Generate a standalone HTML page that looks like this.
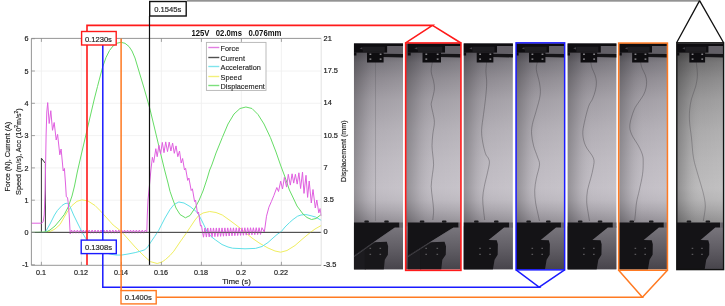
<!DOCTYPE html>
<html><head><meta charset="utf-8"><style>
html,body{margin:0;padding:0;background:#fff;width:725px;height:306px;overflow:hidden}
body{position:relative;font-family:"Liberation Sans",sans-serif}
svg{position:absolute;left:0;top:0;will-change:transform}
</style></head><body>
<svg width="725" height="306" viewBox="0 0 725 306" style="position:absolute;left:0;top:0">
<rect width="725" height="306" fill="#ffffff"/>
<path d="M41.40 38.4V265.3 M81.40 38.4V265.3 M121.40 38.4V265.3 M161.40 38.4V265.3 M201.40 38.4V265.3 M241.40 38.4V265.3 M281.40 38.4V265.3 M31.4 200.20H321.2 M31.4 167.90H321.2 M31.4 135.60H321.2 M31.4 103.30H321.2 M31.4 71.00H321.2" stroke="#efefef" stroke-width="0.8" fill="none"/>
<g fill="none" stroke-linejoin="round" stroke-width="1">
<polyline points="31.40,232.40 41.40,232.40 41.40,158.20 45.40,163.40 45.40,232.40 321.20,232.40" stroke="#3a3a3a"/>
<polyline points="31.40,232.40 45.00,232.40 50.00,231.50 55.00,229.00 60.00,224.50 64.30,217.00 67.20,212.00 72.00,205.50 77.00,201.30 82.00,199.80 88.00,201.00 95.00,205.50 100.00,210.50 105.00,216.00 110.00,221.50 113.10,225.00 117.00,228.00 121.40,231.50 128.00,239.00 135.20,247.10 140.00,252.00 144.80,256.70 150.30,261.60 157.20,263.50 162.00,262.00 165.50,259.50 170.00,255.50 173.80,251.20 180.00,242.00 185.00,235.00 190.00,227.50 195.00,220.00 198.30,216.00 203.00,213.00 209.70,211.50 216.00,212.50 222.30,215.00 230.00,220.50 238.00,226.50 245.20,232.40 252.00,238.00 260.00,243.50 268.00,248.00 275.00,251.00 280.70,252.20 287.00,250.50 295.00,245.50 303.00,238.50 310.40,232.40 315.00,229.00 321.20,225.50" stroke="#f0ee60"/>
<polyline points="31.40,232.40 45.20,232.40 50.00,224.00 54.50,215.00 57.40,210.50 62.00,205.50 65.00,203.60 67.70,203.10 70.20,207.00 73.60,215.00 78.00,224.00 82.00,232.00 85.50,238.10 90.00,243.00 95.00,247.50 100.00,250.50 105.00,252.50 110.30,254.20 116.00,255.00 121.40,255.10 128.00,254.00 135.20,252.60 141.00,251.00 144.80,249.80 147.60,247.00 150.30,242.90 154.50,236.70 158.60,230.50 161.40,225.00 165.00,218.00 170.00,209.50 174.00,204.50 178.80,202.00 184.00,203.00 190.00,206.50 195.00,210.50 198.00,213.40 202.00,221.00 206.80,231.00 211.00,236.50 215.60,240.00 222.00,244.50 228.00,247.00 232.60,248.20 245.00,248.80 255.50,248.40 262.00,246.50 268.00,242.50 273.00,238.00 277.00,234.50 281.20,231.70 285.00,227.00 289.40,222.70 293.00,219.50 297.60,216.20 301.00,215.00 305.70,214.50 310.00,215.50 315.60,217.00 321.20,220.30" stroke="#5fe0e8"/>
<polyline points="31.40,232.50 38.00,232.40 42.00,232.20 46.60,231.80 50.00,230.00 55.00,226.00 60.00,220.00 64.30,214.50 68.20,207.00 72.00,196.00 74.50,186.00 77.30,172.00 80.50,158.00 84.00,143.00 87.50,128.00 91.00,113.00 94.30,99.00 97.50,86.50 100.50,75.00 102.80,66.50 106.00,57.50 109.50,50.50 113.00,46.00 117.00,43.20 121.00,42.30 125.00,43.30 129.00,46.50 132.00,51.00 135.00,58.00 138.60,70.00 144.00,88.00 149.70,108.00 155.00,130.00 160.00,151.00 164.60,170.00 168.00,183.00 170.00,191.30 172.30,198.00 176.00,208.00 180.00,214.50 185.40,217.80 190.00,215.50 195.00,208.00 199.20,200.00 203.00,191.00 207.00,179.00 209.70,170.00 211.80,165.00 216.00,153.00 222.30,137.50 228.00,124.00 234.00,114.00 240.00,108.50 245.90,107.00 252.00,108.50 258.00,114.50 264.00,124.00 270.40,137.50 276.00,152.00 280.50,165.00 285.00,177.00 289.40,190.00 292.30,196.00 297.00,206.00 303.00,214.00 307.00,217.50 311.50,219.50 316.00,218.50 321.20,214.50" stroke="#66dd66"/>
<polyline points="31.40,223.20 41.70,223.20 43.20,221.50 44.20,215.00 45.20,190.00 45.60,165.00 46.10,135.00 46.80,112.00 47.70,102.60 49.20,123.50 50.80,110.70 52.50,130.30 54.20,122.50 56.20,140.00 57.60,134.40 59.80,154.80 61.10,149.00 63.20,171.00 64.40,168.40 65.60,185.00 66.30,196.80 67.50,197.50 68.20,202.60 69.20,215.00 70.20,234.00 71.50,230.00 72.97,233.20 74.45,230.00 75.92,233.20 77.40,230.00 78.87,233.20 80.35,230.00 81.82,233.20 83.30,230.00 84.77,233.20 86.25,230.00 87.72,233.20 89.20,230.00 90.67,233.20 92.15,230.00 93.62,233.20 95.10,230.00 96.57,233.20 98.05,230.00 99.52,233.20 101.00,230.00 102.47,233.20 103.95,230.00 105.42,233.20 106.90,230.00 108.37,233.20 109.85,230.00 111.32,233.20 112.80,230.00 114.27,233.20 115.75,230.00 117.22,233.20 118.70,230.00 120.17,233.20 121.65,230.00 123.12,233.20 124.60,230.00 126.07,233.20 127.55,230.00 129.02,233.20 130.50,230.00 131.97,233.20 133.45,230.00 134.92,233.20 136.40,230.00 137.87,233.20 139.35,230.00 140.82,233.20 142.30,230.00 143.77,233.20 145.25,230.00 146.80,232.00 147.30,215.00 148.00,200.00 149.50,185.00 150.90,170.00 152.40,157.30 153.70,162.50 155.80,148.70 157.20,156.70 158.90,145.30 160.60,153.90 162.30,142.40 164.00,152.70 165.70,141.90 167.50,151.60 169.20,142.10 170.90,151.00 172.60,143.00 174.30,153.30 176.00,145.90 177.80,156.70 179.50,151.00 181.20,163.00 182.60,158.50 184.50,170.00 185.60,168.30 187.70,180.40 188.90,178.00 191.20,190.50 192.40,188.80 194.60,201.60 195.50,200.00 197.50,213.50 198.50,212.00 200.50,226.00 201.50,225.50 202.50,232.00 203.50,237.20 204.93,227.99 206.35,237.06 207.78,227.98 209.20,236.92 210.63,227.96 212.05,236.78 213.48,227.95 214.90,236.64 216.33,227.94 217.75,236.51 219.18,227.92 220.60,236.37 222.03,227.91 223.45,236.23 224.88,227.89 226.30,236.09 227.73,227.88 229.15,235.95 230.58,227.86 232.00,235.81 233.43,227.85 234.85,235.67 236.28,227.83 237.70,235.53 239.13,227.82 240.55,235.39 241.98,227.81 243.40,235.26 244.83,227.79 246.25,235.12 247.68,227.78 249.10,234.98 250.53,227.76 251.95,234.84 253.38,227.75 254.80,234.70 256.23,227.73 257.65,234.56 259.08,227.72 260.50,234.42 261.93,227.71 264.30,232.00 265.20,226.00 266.50,216.20 268.90,207.20 271.40,201.50 273.80,195.70 275.50,191.00 276.80,187.50 278.50,191.50 280.70,181.20 282.50,189.00 284.40,177.30 286.60,187.10 288.30,174.30 290.30,185.10 292.10,173.80 293.70,183.10 295.40,174.30 297.20,184.10 298.90,172.80 300.60,188.50 302.50,172.10 304.00,193.40 306.00,175.30 307.60,197.40 309.20,181.00 311.30,203.00 313.00,189.50 315.30,208.00 316.80,200.00 318.80,212.90 320.10,208.50 321.20,216.00" stroke="#e060e0"/>
</g>
<path d="M31.4 232.4H321.2" stroke="#555" stroke-width="0.9"/>
<path d="M31.4 38.4H321.2 M31.4 265.3H321.2 M31.4 38.4V265.3" stroke="#8a8a8a" stroke-width="0.9" fill="none"/>
<path d="M321.2 38.4V265.3" stroke="#dcdcdc" stroke-width="0.8" fill="none"/>
<path d="M41.40 265.3v-3.5M41.40 38.4v3.5 M81.40 265.3v-3.5M81.40 38.4v3.5 M121.40 265.3v-3.5M121.40 38.4v3.5 M161.40 265.3v-3.5M161.40 38.4v3.5 M201.40 265.3v-3.5M201.40 38.4v3.5 M241.40 265.3v-3.5M241.40 38.4v3.5 M281.40 265.3v-3.5M281.40 38.4v3.5 M31.4 264.80h3.5 M31.4 232.50h3.5 M31.4 200.20h3.5 M31.4 167.90h3.5 M31.4 135.60h3.5 M31.4 103.30h3.5 M31.4 71.00h3.5 M31.4 38.70h3.5" stroke="#8a8a8a" stroke-width="0.8" fill="none"/>
<g font-family="Liberation Sans, sans-serif" font-size="8" fill="#222" stroke="#222" stroke-width="0.2"><text transform="translate(28.6,41.30) scale(0.9,1)" text-anchor="end">6</text><text transform="translate(28.6,73.60) scale(0.9,1)" text-anchor="end">5</text><text transform="translate(28.6,105.90) scale(0.9,1)" text-anchor="end">4</text><text transform="translate(28.6,138.20) scale(0.9,1)" text-anchor="end">3</text><text transform="translate(28.6,170.50) scale(0.9,1)" text-anchor="end">2</text><text transform="translate(28.6,202.80) scale(0.9,1)" text-anchor="end">1</text><text transform="translate(28.6,235.10) scale(0.9,1)" text-anchor="end">0</text><text transform="translate(28.6,267.40) scale(0.9,1)" text-anchor="end">-1</text><text transform="translate(41.00,274.8) scale(0.9,1)" text-anchor="middle">0.1</text><text transform="translate(81.00,274.8) scale(0.9,1)" text-anchor="middle">0.12</text><text transform="translate(121.00,274.8) scale(0.9,1)" text-anchor="middle">0.14</text><text transform="translate(161.00,274.8) scale(0.9,1)" text-anchor="middle">0.16</text><text transform="translate(201.00,274.8) scale(0.9,1)" text-anchor="middle">0.18</text><text transform="translate(241.00,274.8) scale(0.9,1)" text-anchor="middle">0.2</text><text transform="translate(281.00,274.8) scale(0.9,1)" text-anchor="middle">0.22</text><text transform="translate(323.5,40.60) scale(0.93,1)">21</text><text transform="translate(323.5,72.90) scale(0.93,1)">17.5</text><text transform="translate(323.5,105.20) scale(0.93,1)">14</text><text transform="translate(323.5,137.50) scale(0.93,1)">10.5</text><text transform="translate(323.5,169.80) scale(0.93,1)">7</text><text transform="translate(323.5,202.10) scale(0.93,1)">3.5</text><text transform="translate(323.5,234.40) scale(0.93,1)">0</text><text transform="translate(323.5,266.70) scale(0.93,1)">-3.5</text></g>
<text transform="translate(191.4,35.9) scale(0.977,1.08)" font-family="Liberation Sans, sans-serif" font-size="7.9" font-weight="bold" fill="#111" xml:space="preserve">125V   02.0ms   0.076mm</text>
<text x="236.5" y="284.4" font-family="Liberation Sans, sans-serif" font-size="7.9" fill="#222" stroke="#222" stroke-width="0.15" text-anchor="middle">Time (s)</text>
<text transform="translate(9.7,156.7) rotate(-90) scale(1,1.12)" font-family="Liberation Sans, sans-serif" font-size="7.2" fill="#222" stroke="#222" stroke-width="0.15" text-anchor="middle">Force (N), Current (A)</text>
<text transform="translate(21.0,151.6) rotate(-90) scale(1,1.12)" font-family="Liberation Sans, sans-serif" font-size="7.2" fill="#222" stroke="#222" stroke-width="0.15" text-anchor="middle">Speed (m/s), Acc (10<tspan font-size="5" dy="-3">2</tspan><tspan dy="3">m/s</tspan><tspan font-size="5" dy="-3">2</tspan><tspan dy="3">)</tspan></text>
<text transform="translate(345.9,151.2) rotate(-90)" font-family="Liberation Sans, sans-serif" font-size="7.1" fill="#222" stroke="#222" stroke-width="0.15" text-anchor="middle">Displacement (mm)</text>
<rect x="206.4" y="42.4" width="59.6" height="48.0" fill="#fff" stroke="#b4b4b4" stroke-width="0.9"/>
<path d="M208.3 47.50H219.3" stroke="#e27ee2" stroke-width="1.4"/>
<text x="220.6" y="50.90" font-family="Liberation Sans, sans-serif" font-size="7.3" fill="#1a1a1a" stroke="#1a1a1a" stroke-width="0.12">Force</text>
<path d="M208.3 57.50H219.3" stroke="#505050" stroke-width="1.4"/>
<text x="220.6" y="60.90" font-family="Liberation Sans, sans-serif" font-size="7.3" fill="#1a1a1a" stroke="#1a1a1a" stroke-width="0.12">Current</text>
<path d="M208.3 66.50H219.3" stroke="#80e4ec" stroke-width="1.4"/>
<text x="220.6" y="69.90" font-family="Liberation Sans, sans-serif" font-size="7.3" fill="#1a1a1a" stroke="#1a1a1a" stroke-width="0.12">Acceleration</text>
<path d="M208.3 76.50H219.3" stroke="#f2f07a" stroke-width="1.4"/>
<text x="220.6" y="79.90" font-family="Liberation Sans, sans-serif" font-size="7.3" fill="#1a1a1a" stroke="#1a1a1a" stroke-width="0.12">Speed</text>
<path d="M208.3 85.50H219.3" stroke="#7ce07c" stroke-width="1.4"/>
<text x="220.6" y="88.90" font-family="Liberation Sans, sans-serif" font-size="7.3" fill="#1a1a1a" stroke="#1a1a1a" stroke-width="0.12">Displacement</text>
<defs>
<linearGradient id="bgv" x1="0" y1="52" x2="0" y2="222" gradientUnits="userSpaceOnUse">
<stop offset="0" stop-color="#5e5b62"/>
<stop offset="0.06" stop-color="#78757c"/>
<stop offset="0.16" stop-color="#8e8a91"/>
<stop offset="0.28" stop-color="#a19da4"/>
<stop offset="0.46" stop-color="#b1adb4"/>
<stop offset="0.64" stop-color="#bcb8bf"/>
<stop offset="0.80" stop-color="#c2bec5"/>
<stop offset="0.87" stop-color="#bbb7be"/>
<stop offset="0.93" stop-color="#a9a5ac"/>
<stop offset="1" stop-color="#908c93"/>
</linearGradient>
<linearGradient id="bgv7" x1="0" y1="52" x2="0" y2="222" gradientUnits="userSpaceOnUse">
<stop offset="0" stop-color="#575657"/>
<stop offset="0.06" stop-color="#706f70"/>
<stop offset="0.16" stop-color="#868586"/>
<stop offset="0.28" stop-color="#999899"/>
<stop offset="0.46" stop-color="#aaa9aa"/>
<stop offset="0.64" stop-color="#b5b4b5"/>
<stop offset="0.80" stop-color="#bcbbbc"/>
<stop offset="0.87" stop-color="#b4b3b4"/>
<stop offset="0.93" stop-color="#a3a2a3"/>
<stop offset="1" stop-color="#8c8b8c"/>
</linearGradient>
<linearGradient id="bgh" x1="0" y1="0" x2="1" y2="0">
<stop offset="0" stop-color="#000" stop-opacity="0.24"/>
<stop offset="0.25" stop-color="#000" stop-opacity="0.08"/>
<stop offset="0.55" stop-color="#fff" stop-opacity="0.02"/>
<stop offset="1" stop-color="#fff" stop-opacity="0.08"/>
</linearGradient>
<linearGradient id="bgb" x1="0" y1="228" x2="0" y2="269.6" gradientUnits="userSpaceOnUse">
<stop offset="0" stop-color="#78757c"/>
<stop offset="0.5" stop-color="#605d64"/>
<stop offset="1" stop-color="#47444b"/>
</linearGradient>
</defs>
<clipPath id="cp0"><rect x="353.8" y="43.3" width="49.30" height="226.30"/></clipPath>
<g clip-path="url(#cp0)">
<rect x="353.8" y="43.3" width="49.30" height="226.30" fill="url(#bgv)"/>
<rect x="353.8" y="43.3" width="49.30" height="226.30" fill="url(#bgh)"/>
<path d="M375.50 61.50 L375.50 221.00" fill="none" stroke="#3a383e" stroke-width="0.65" stroke-opacity="0.3"/>
<rect x="353.80" y="43.30" width="49.40" height="2.80" fill="#0e0d10"/>
<rect x="353.80" y="46.00" width="33.60" height="6.60" fill="#0e0d10"/>
<rect x="362.80" y="46.70" width="22.00" height="5.20" fill="#1e1d21"/>
<rect x="387.30" y="46.00" width="15.90" height="7.70" fill="#625f66"/>
<polygon points="382.30,53.70 403.20,54.00 403.20,57.50 382.30,56.90" fill="#151417"/>
<rect x="367.00" y="52.50" width="16.60" height="10.00" fill="#0e0d10"/>
<rect x="353.80" y="52.50" width="2.60" height="3.00" fill="#0e0d10"/>
<polygon points="359.60,48.30 362.40,47.20 362.40,49.40" fill="#46444a"/>
<rect x="369.50" y="53.65" width="1.8" height="1.1" fill="#aeacb0"/>
<rect x="379.70" y="53.65" width="1.8" height="1.1" fill="#aeacb0"/>
<rect x="369.50" y="58.55" width="1.8" height="1.1" fill="#aeacb0"/>
<rect x="379.70" y="58.55" width="1.8" height="1.1" fill="#aeacb0"/>
<rect x="353.8" y="226.30" width="49.30" height="43.30" fill="url(#bgb)"/>
<rect x="399.30" y="222.50" width="3.90" height="5.20" fill="#6a676e"/>
<polygon points="353.80,222.50 399.30,222.50 399.30,227.60 394.80,227.60 353.80,255.80" fill="#141316"/>
<polygon points="353.80,255.80 365.80,247.60 365.80,269.80 353.80,269.80" fill="#1c1b1f"/>
<polygon points="364.80,248.30 373.80,242.30 386.80,241.80 388.10,246.30 387.90,254.80 384.80,259.80 383.80,269.80 364.80,269.80" fill="#18171a"/>
<path d="M393.80 228.60L353.80 256.80" stroke="#6a686e" stroke-width="0.8" stroke-opacity="0.6"/>
<rect x="364.30" y="220.40" width="4.6" height="2.3" rx="1" fill="#19181b"/>
<rect x="384.20" y="220.40" width="4.6" height="2.3" rx="1" fill="#19181b"/>
<rect x="369.50" y="247.80" width="1.6" height="1" fill="#6a686c"/>
<rect x="379.50" y="247.80" width="1.6" height="1" fill="#6a686c"/>
<rect x="369.50" y="253.80" width="1.6" height="1" fill="#6a686c"/>
<rect x="379.50" y="253.80" width="1.6" height="1" fill="#6a686c"/>
</g>
<clipPath id="cp1"><rect x="406.0" y="43.3" width="54.90" height="226.30"/></clipPath>
<g clip-path="url(#cp1)">
<rect x="406.0" y="43.3" width="54.90" height="226.30" fill="url(#bgv)"/>
<rect x="406.0" y="43.3" width="54.90" height="226.30" fill="url(#bgh)"/>
<path d="M432.40 61.60 C432.20 63.23 431.00 68.13 431.20 71.40 C431.40 74.67 433.07 78.27 433.60 81.20 C434.13 84.13 434.60 86.07 434.40 89.00 C434.20 91.93 432.93 96.18 432.40 98.80 C431.87 101.42 431.13 102.42 431.20 104.70 C431.27 106.98 432.27 109.55 432.80 112.50 C433.33 115.45 434.40 118.80 434.40 122.40 C434.40 126.00 433.20 130.18 432.80 134.10 C432.40 138.02 432.00 142.42 432.00 145.90 C432.00 149.38 432.53 151.85 432.80 155.00 C433.07 158.15 433.67 161.53 433.60 164.80 C433.53 168.07 432.80 171.00 432.40 174.60 C432.00 178.20 431.20 182.48 431.20 186.40 C431.20 190.32 432.00 194.18 432.40 198.10 C432.80 202.02 433.53 206.25 433.60 209.90 C433.67 213.55 432.93 218.32 432.80 220.00" fill="none" stroke="#3a383e" stroke-width="0.65" stroke-opacity="0.58"/>
<rect x="407.80" y="43.30" width="55.01" height="2.80" fill="#0e0d10"/>
<rect x="407.80" y="46.00" width="37.42" height="6.60" fill="#0e0d10"/>
<rect x="417.82" y="46.70" width="24.50" height="5.20" fill="#1e1d21"/>
<rect x="445.11" y="46.00" width="17.71" height="7.70" fill="#625f66"/>
<polygon points="439.54,53.70 461.90,54.00 461.90,57.50 439.54,56.90" fill="#151417"/>
<rect x="422.50" y="52.50" width="18.49" height="10.00" fill="#0e0d10"/>
<rect x="407.80" y="52.50" width="2.90" height="3.00" fill="#0e0d10"/>
<polygon points="414.26,48.30 417.38,47.20 417.38,49.40" fill="#46444a"/>
<rect x="425.39" y="53.65" width="1.8" height="1.1" fill="#aeacb0"/>
<rect x="436.74" y="53.65" width="1.8" height="1.1" fill="#aeacb0"/>
<rect x="425.39" y="58.55" width="1.8" height="1.1" fill="#aeacb0"/>
<rect x="436.74" y="58.55" width="1.8" height="1.1" fill="#aeacb0"/>
<rect x="406.0" y="226.30" width="54.90" height="43.30" fill="url(#bgb)"/>
<rect x="458.47" y="222.50" width="4.34" height="5.20" fill="#6a676e"/>
<polygon points="407.80,222.50 458.47,222.50 458.47,227.60 453.46,227.60 407.80,255.80" fill="#141316"/>
<polygon points="407.80,255.80 421.16,247.60 421.16,269.80 407.80,269.80" fill="#1c1b1f"/>
<polygon points="420.05,248.30 430.07,242.30 444.55,241.80 446.00,246.30 445.77,254.80 442.32,259.80 441.21,269.80 420.05,269.80" fill="#18171a"/>
<path d="M452.34 228.60L407.80 256.80" stroke="#6a686e" stroke-width="0.8" stroke-opacity="0.6"/>
<rect x="419.75" y="220.40" width="4.6" height="2.3" rx="1" fill="#19181b"/>
<rect x="441.91" y="220.40" width="4.6" height="2.3" rx="1" fill="#19181b"/>
<rect x="425.37" y="247.80" width="1.6" height="1" fill="#6a686c"/>
<rect x="436.51" y="247.80" width="1.6" height="1" fill="#6a686c"/>
<rect x="425.37" y="253.80" width="1.6" height="1" fill="#6a686c"/>
<rect x="436.51" y="253.80" width="1.6" height="1" fill="#6a686c"/>
</g>
<clipPath id="cp2"><rect x="463.5" y="43.3" width="49.40" height="226.30"/></clipPath>
<g clip-path="url(#cp2)">
<rect x="463.5" y="43.3" width="49.40" height="226.30" fill="url(#bgv)"/>
<rect x="463.5" y="43.3" width="49.40" height="226.30" fill="url(#bgh)"/>
<path d="M486.70 61.60 C486.57 63.23 485.90 67.82 485.90 71.40 C485.90 74.98 486.77 78.53 486.70 83.10 C486.63 87.67 486.03 93.57 485.50 98.80 C484.97 104.03 484.15 109.27 483.50 114.50 C482.85 119.73 481.73 125.62 481.60 130.20 C481.47 134.78 482.05 138.08 482.70 142.00 C483.35 145.92 484.58 151.03 485.50 153.70 C486.42 156.37 487.55 156.48 488.20 158.00 C488.85 159.52 489.52 160.37 489.40 162.80 C489.28 165.23 488.35 168.67 487.50 172.60 C486.65 176.53 485.10 182.15 484.30 186.40 C483.50 190.65 482.83 194.18 482.70 198.10 C482.57 202.02 483.17 206.25 483.50 209.90 C483.83 213.55 484.50 218.32 484.70 220.00" fill="none" stroke="#3a383e" stroke-width="0.65" stroke-opacity="0.58"/>
<rect x="463.50" y="43.30" width="49.50" height="2.80" fill="#0e0d10"/>
<rect x="463.50" y="46.00" width="33.67" height="6.60" fill="#0e0d10"/>
<rect x="472.52" y="46.70" width="22.04" height="5.20" fill="#1e1d21"/>
<rect x="497.07" y="46.00" width="15.93" height="7.70" fill="#625f66"/>
<polygon points="492.06,53.70 513.00,54.00 513.00,57.50 492.06,56.90" fill="#151417"/>
<rect x="476.73" y="52.50" width="16.63" height="10.00" fill="#0e0d10"/>
<rect x="463.50" y="52.50" width="2.61" height="3.00" fill="#0e0d10"/>
<polygon points="469.31,48.30 472.12,47.20 472.12,49.40" fill="#46444a"/>
<rect x="479.23" y="53.65" width="1.8" height="1.1" fill="#aeacb0"/>
<rect x="489.45" y="53.65" width="1.8" height="1.1" fill="#aeacb0"/>
<rect x="479.23" y="58.55" width="1.8" height="1.1" fill="#aeacb0"/>
<rect x="489.45" y="58.55" width="1.8" height="1.1" fill="#aeacb0"/>
<rect x="463.5" y="226.30" width="49.40" height="43.30" fill="url(#bgb)"/>
<rect x="509.09" y="222.50" width="3.91" height="5.20" fill="#6a676e"/>
<polygon points="463.50,222.50 509.09,222.50 509.09,227.60 504.08,227.60 488.55,240.00 496.77,240.20 497.87,244.30 497.67,254.80 494.56,259.80 492.86,269.80 463.50,269.80" fill="#141316"/>
<rect x="474.03" y="220.40" width="4.6" height="2.3" rx="1" fill="#19181b"/>
<rect x="493.97" y="220.40" width="4.6" height="2.3" rx="1" fill="#19181b"/>
<rect x="479.23" y="247.80" width="1.6" height="1" fill="#6a686c"/>
<rect x="489.25" y="247.80" width="1.6" height="1" fill="#6a686c"/>
<rect x="479.23" y="253.80" width="1.6" height="1" fill="#6a686c"/>
<rect x="489.25" y="253.80" width="1.6" height="1" fill="#6a686c"/>
</g>
<clipPath id="cp3"><rect x="516.0" y="43.3" width="48.70" height="226.30"/></clipPath>
<g clip-path="url(#cp3)">
<rect x="516.0" y="43.3" width="48.70" height="226.30" fill="url(#bgv)"/>
<rect x="516.0" y="43.3" width="48.70" height="226.30" fill="url(#bgh)"/>
<path d="M537.50 61.60 C537.30 62.90 535.97 65.82 536.30 69.40 C536.63 72.98 538.85 78.85 539.50 83.10 C540.15 87.35 540.73 90.32 540.20 94.90 C539.67 99.48 537.60 105.70 536.30 110.60 C535.00 115.50 533.18 120.38 532.40 124.30 C531.62 128.22 531.40 130.50 531.60 134.10 C531.80 137.70 532.62 142.08 533.60 145.90 C534.58 149.72 536.52 153.85 537.50 157.00 C538.48 160.15 539.70 161.22 539.50 164.80 C539.30 168.38 537.10 174.25 536.30 178.50 C535.50 182.75 534.83 186.37 534.70 190.30 C534.57 194.23 534.97 198.18 535.50 202.10 C536.03 206.02 537.23 210.65 537.90 213.80 C538.57 216.95 539.23 219.80 539.50 221.00" fill="none" stroke="#3a383e" stroke-width="0.65" stroke-opacity="0.58"/>
<rect x="516.00" y="43.30" width="48.80" height="2.80" fill="#0e0d10"/>
<rect x="516.00" y="46.00" width="33.19" height="6.60" fill="#0e0d10"/>
<rect x="524.89" y="46.70" width="21.73" height="5.20" fill="#1e1d21"/>
<rect x="549.09" y="46.00" width="15.71" height="7.70" fill="#625f66"/>
<polygon points="544.15,53.70 564.80,54.00 564.80,57.50 544.15,56.90" fill="#151417"/>
<rect x="529.04" y="52.50" width="16.40" height="10.00" fill="#0e0d10"/>
<rect x="516.00" y="52.50" width="2.57" height="3.00" fill="#0e0d10"/>
<polygon points="521.73,48.30 524.50,47.20 524.50,49.40" fill="#46444a"/>
<rect x="531.50" y="53.65" width="1.8" height="1.1" fill="#aeacb0"/>
<rect x="541.57" y="53.65" width="1.8" height="1.1" fill="#aeacb0"/>
<rect x="531.50" y="58.55" width="1.8" height="1.1" fill="#aeacb0"/>
<rect x="541.57" y="58.55" width="1.8" height="1.1" fill="#aeacb0"/>
<rect x="516.0" y="226.30" width="48.70" height="43.30" fill="url(#bgb)"/>
<rect x="560.95" y="222.50" width="3.85" height="5.20" fill="#6a676e"/>
<polygon points="516.00,222.50 560.95,222.50 560.95,227.60 556.01,227.60 540.70,240.00 548.80,240.20 549.88,244.30 549.68,254.80 546.62,259.80 544.94,269.80 516.00,269.80" fill="#141316"/>
<rect x="526.34" y="220.40" width="4.6" height="2.3" rx="1" fill="#19181b"/>
<rect x="546.00" y="220.40" width="4.6" height="2.3" rx="1" fill="#19181b"/>
<rect x="531.50" y="247.80" width="1.6" height="1" fill="#6a686c"/>
<rect x="541.38" y="247.80" width="1.6" height="1" fill="#6a686c"/>
<rect x="531.50" y="253.80" width="1.6" height="1" fill="#6a686c"/>
<rect x="541.38" y="253.80" width="1.6" height="1" fill="#6a686c"/>
</g>
<clipPath id="cp4"><rect x="567.4" y="43.3" width="49.20" height="226.30"/></clipPath>
<g clip-path="url(#cp4)">
<rect x="567.4" y="43.3" width="49.20" height="226.30" fill="url(#bgv)"/>
<rect x="567.4" y="43.3" width="49.20" height="226.30" fill="url(#bgh)"/>
<path d="M590.70 61.60 C590.92 62.67 591.28 65.77 592.00 68.00 C592.72 70.23 594.27 72.67 595.00 75.00 C595.73 77.33 596.32 79.50 596.40 82.00 C596.48 84.50 596.15 87.17 595.50 90.00 C594.85 92.83 593.65 96.28 592.50 99.00 C591.35 101.72 589.95 102.40 588.60 106.30 C587.25 110.20 585.37 117.77 584.40 122.40 C583.43 127.03 582.60 130.18 582.80 134.10 C583.00 138.02 583.83 141.92 585.60 145.90 C587.37 149.88 592.10 154.52 593.40 158.00 C594.70 161.48 593.85 163.38 593.40 166.80 C592.95 170.22 591.68 174.58 590.70 178.50 C589.72 182.42 588.17 186.37 587.50 190.30 C586.83 194.23 586.57 198.18 586.70 202.10 C586.83 206.02 587.83 210.65 588.30 213.80 C588.77 216.95 589.30 219.80 589.50 221.00" fill="none" stroke="#3a383e" stroke-width="0.65" stroke-opacity="0.58"/>
<rect x="567.40" y="43.30" width="49.30" height="2.80" fill="#0e0d10"/>
<rect x="567.40" y="46.00" width="33.53" height="6.60" fill="#0e0d10"/>
<rect x="576.38" y="46.70" width="21.96" height="5.20" fill="#1e1d21"/>
<rect x="600.83" y="46.00" width="15.87" height="7.70" fill="#625f66"/>
<polygon points="595.84,53.70 616.70,54.00 616.70,57.50 595.84,56.90" fill="#151417"/>
<rect x="580.57" y="52.50" width="16.57" height="10.00" fill="#0e0d10"/>
<rect x="567.40" y="52.50" width="2.59" height="3.00" fill="#0e0d10"/>
<polygon points="573.19,48.30 575.98,47.20 575.98,49.40" fill="#46444a"/>
<rect x="583.07" y="53.65" width="1.8" height="1.1" fill="#aeacb0"/>
<rect x="593.25" y="53.65" width="1.8" height="1.1" fill="#aeacb0"/>
<rect x="583.07" y="58.55" width="1.8" height="1.1" fill="#aeacb0"/>
<rect x="593.25" y="58.55" width="1.8" height="1.1" fill="#aeacb0"/>
<rect x="567.4" y="226.30" width="49.20" height="43.30" fill="url(#bgb)"/>
<rect x="612.81" y="222.50" width="3.89" height="5.20" fill="#6a676e"/>
<polygon points="567.40,222.50 612.81,222.50 612.81,227.60 607.82,227.60 592.35,240.00 600.53,240.20 601.63,244.30 601.43,254.80 598.34,259.80 596.64,269.80 567.40,269.80" fill="#141316"/>
<rect x="577.87" y="220.40" width="4.6" height="2.3" rx="1" fill="#19181b"/>
<rect x="597.73" y="220.40" width="4.6" height="2.3" rx="1" fill="#19181b"/>
<rect x="583.07" y="247.80" width="1.6" height="1" fill="#6a686c"/>
<rect x="593.05" y="247.80" width="1.6" height="1" fill="#6a686c"/>
<rect x="583.07" y="253.80" width="1.6" height="1" fill="#6a686c"/>
<rect x="593.05" y="253.80" width="1.6" height="1" fill="#6a686c"/>
</g>
<clipPath id="cp5"><rect x="619.2" y="43.3" width="48.30" height="226.30"/></clipPath>
<g clip-path="url(#cp5)">
<rect x="619.2" y="43.3" width="48.30" height="226.30" fill="url(#bgv)"/>
<rect x="619.2" y="43.3" width="48.30" height="226.30" fill="url(#bgh)"/>
<path d="M640.50 61.60 C640.75 62.67 641.20 65.77 642.00 68.00 C642.80 70.23 644.53 72.75 645.30 75.00 C646.07 77.25 646.48 79.33 646.60 81.50 C646.72 83.67 646.52 85.75 646.00 88.00 C645.48 90.25 644.67 92.72 643.50 95.00 C642.33 97.28 640.58 99.20 639.00 101.70 C637.42 104.20 635.52 106.23 634.00 110.00 C632.48 113.77 630.32 120.28 629.90 124.30 C629.48 128.32 630.07 130.50 631.50 134.10 C632.93 137.70 636.67 142.42 638.50 145.90 C640.33 149.38 641.72 152.18 642.50 155.00 C643.28 157.82 643.20 159.53 643.20 162.80 C643.20 166.07 643.15 170.02 642.50 174.60 C641.85 179.18 640.28 185.72 639.30 190.30 C638.32 194.88 637.25 198.18 636.60 202.10 C635.95 206.02 635.73 210.65 635.40 213.80 C635.07 216.95 634.73 219.80 634.60 221.00" fill="none" stroke="#3a383e" stroke-width="0.65" stroke-opacity="0.58"/>
<rect x="619.20" y="43.30" width="48.40" height="2.80" fill="#0e0d10"/>
<rect x="619.20" y="46.00" width="32.92" height="6.60" fill="#0e0d10"/>
<rect x="628.02" y="46.70" width="21.55" height="5.20" fill="#1e1d21"/>
<rect x="652.02" y="46.00" width="15.58" height="7.70" fill="#625f66"/>
<polygon points="647.12,53.70 667.60,54.00 667.60,57.50 647.12,56.90" fill="#151417"/>
<rect x="632.13" y="52.50" width="16.26" height="10.00" fill="#0e0d10"/>
<rect x="619.20" y="52.50" width="2.55" height="3.00" fill="#0e0d10"/>
<polygon points="624.88,48.30 627.63,47.20 627.63,49.40" fill="#46444a"/>
<rect x="634.56" y="53.65" width="1.8" height="1.1" fill="#aeacb0"/>
<rect x="644.56" y="53.65" width="1.8" height="1.1" fill="#aeacb0"/>
<rect x="634.56" y="58.55" width="1.8" height="1.1" fill="#aeacb0"/>
<rect x="644.56" y="58.55" width="1.8" height="1.1" fill="#aeacb0"/>
<rect x="619.2" y="226.30" width="48.30" height="43.30" fill="url(#bgb)"/>
<rect x="663.78" y="222.50" width="3.82" height="5.20" fill="#6a676e"/>
<polygon points="619.20,222.50 663.78,222.50 663.78,227.60 658.88,227.60 643.69,240.00 651.73,240.20 652.80,244.30 652.61,254.80 649.57,259.80 647.91,269.80 619.20,269.80" fill="#141316"/>
<rect x="629.44" y="220.40" width="4.6" height="2.3" rx="1" fill="#19181b"/>
<rect x="648.94" y="220.40" width="4.6" height="2.3" rx="1" fill="#19181b"/>
<rect x="634.57" y="247.80" width="1.6" height="1" fill="#6a686c"/>
<rect x="644.36" y="247.80" width="1.6" height="1" fill="#6a686c"/>
<rect x="634.57" y="253.80" width="1.6" height="1" fill="#6a686c"/>
<rect x="644.36" y="253.80" width="1.6" height="1" fill="#6a686c"/>
</g>
<clipPath id="cp6"><rect x="676.8" y="43.3" width="46.80" height="226.30"/></clipPath>
<g clip-path="url(#cp6)">
<rect x="676.8" y="43.3" width="46.80" height="226.30" fill="url(#bgv7)"/>
<rect x="676.8" y="43.3" width="46.80" height="226.30" fill="url(#bgh)"/>
<path d="M696.20 61.60 C696.40 63.88 697.52 71.07 697.40 75.30 C697.28 79.53 696.48 83.08 695.50 87.00 C694.52 90.92 692.48 94.87 691.50 98.80 C690.52 102.73 689.92 106.67 689.60 110.60 C689.28 114.53 689.28 117.83 689.60 122.40 C689.92 126.97 690.85 132.07 691.50 138.00 C692.15 143.93 692.42 151.83 693.50 158.00 C694.58 164.17 696.42 169.33 698.00 175.00 C699.58 180.67 701.78 186.83 703.00 192.00 C704.22 197.17 705.25 201.17 705.30 206.00 C705.35 210.83 703.63 218.50 703.30 221.00" fill="none" stroke="#3a383e" stroke-width="0.65" stroke-opacity="0.5"/>
<rect x="676.80" y="43.30" width="46.89" height="2.80" fill="#0e0d10"/>
<rect x="676.80" y="46.00" width="31.90" height="6.60" fill="#0e0d10"/>
<rect x="685.34" y="46.70" width="20.88" height="5.20" fill="#1e1d21"/>
<rect x="708.60" y="46.00" width="15.09" height="7.70" fill="#625f66"/>
<polygon points="703.85,53.70 723.69,54.00 723.69,57.50 703.85,56.90" fill="#151417"/>
<rect x="689.33" y="52.50" width="15.76" height="10.00" fill="#0e0d10"/>
<rect x="676.80" y="52.50" width="2.47" height="3.00" fill="#0e0d10"/>
<polygon points="682.31,48.30 684.96,47.20 684.96,49.40" fill="#46444a"/>
<rect x="691.66" y="53.65" width="1.8" height="1.1" fill="#aeacb0"/>
<rect x="701.34" y="53.65" width="1.8" height="1.1" fill="#aeacb0"/>
<rect x="691.66" y="58.55" width="1.8" height="1.1" fill="#aeacb0"/>
<rect x="701.34" y="58.55" width="1.8" height="1.1" fill="#aeacb0"/>
<rect x="676.8" y="226.30" width="46.80" height="43.30" fill="url(#bgb)"/>
<rect x="719.99" y="222.50" width="3.70" height="5.20" fill="#6a676e"/>
<polygon points="676.80,222.50 719.99,222.50 719.99,227.60 715.25,227.60 700.53,240.00 708.32,240.20 709.36,244.30 709.17,254.80 706.23,259.80 704.61,269.80 676.80,269.80" fill="#141316"/>
<rect x="686.65" y="220.40" width="4.6" height="2.3" rx="1" fill="#19181b"/>
<rect x="705.54" y="220.40" width="4.6" height="2.3" rx="1" fill="#19181b"/>
<rect x="691.66" y="247.80" width="1.6" height="1" fill="#6a686c"/>
<rect x="701.16" y="247.80" width="1.6" height="1" fill="#6a686c"/>
<rect x="691.66" y="253.80" width="1.6" height="1" fill="#6a686c"/>
<rect x="701.16" y="253.80" width="1.6" height="1" fill="#6a686c"/>
</g>
<rect x="187" y="0" width="513" height="1.7" fill="#939393"/>
<path d="M87 264.9V25.4H432.5L405.65 42.95M432.5 25.4L460.95 42.95" fill="none" stroke="#ff1a1a" stroke-width="1.6"/>
<rect x="405.65" y="42.95" width="55.3" height="227.4" fill="none" stroke="#ff1a1a" stroke-width="1.6"/>
<path d="M102.8 38.4V287.2H539.2L516.05 269.85M539.2 287.2L564.65 269.85" fill="none" stroke="#1a1aff" stroke-width="1.5"/>
<rect x="516.05" y="42.85" width="48.6" height="227" fill="none" stroke="#1a1aff" stroke-width="1.5"/>
<path d="M121.1 38.4V291M156 297.2H642.4L618.65 270.25M642.4 297.2L667.45 270.25" fill="none" stroke="#ff7a22" stroke-width="1.5"/>
<rect x="618.65" y="43.05" width="48.8" height="227.2" fill="none" stroke="#ff7a22" stroke-width="1.5"/>
<path d="M149.5 16V264.9" fill="none" stroke="#111111" stroke-width="1.2"/>
<path d="M699.6 0.6L676.6 42.8M699.6 0.6L723.6 42.8" fill="none" stroke="#111111" stroke-width="1.3"/>
<rect x="676.8" y="42.8" width="46.8" height="226.8" fill="none" stroke="#111111" stroke-width="1.4"/>
<rect x="81.6" y="31.5" width="34.6" height="13.5" fill="#fff" stroke="#ff1a1a" stroke-width="1.4"/><text x="84.9" y="41.5" font-family="Liberation Sans, sans-serif" font-size="7.6" fill="#2a2a2a" stroke="#2a2a2a" stroke-width="0.2">0.1230s</text>
<rect x="81.2" y="240.1" width="35.1" height="13.5" fill="#fff" stroke="#1a1aff" stroke-width="1.4"/><text x="85.0" y="249.8" font-family="Liberation Sans, sans-serif" font-size="7.6" fill="#2a2a2a" stroke="#2a2a2a" stroke-width="0.2">0.1308s</text>
<rect x="121.0" y="290.6" width="35.2" height="13.3" fill="#fff" stroke="#ff7a22" stroke-width="1.4"/><text x="124.8" y="299.8" font-family="Liberation Sans, sans-serif" font-size="7.6" fill="#2a2a2a" stroke="#2a2a2a" stroke-width="0.2">0.1400s</text>
<rect x="149.7" y="1.5" width="36.5" height="14.5" fill="#fff" stroke="#111111" stroke-width="1.4"/><text x="154.2" y="11.6" font-family="Liberation Sans, sans-serif" font-size="7.6" fill="#2a2a2a" stroke="#2a2a2a" stroke-width="0.2">0.1545s</text>
</svg>
</body></html>
